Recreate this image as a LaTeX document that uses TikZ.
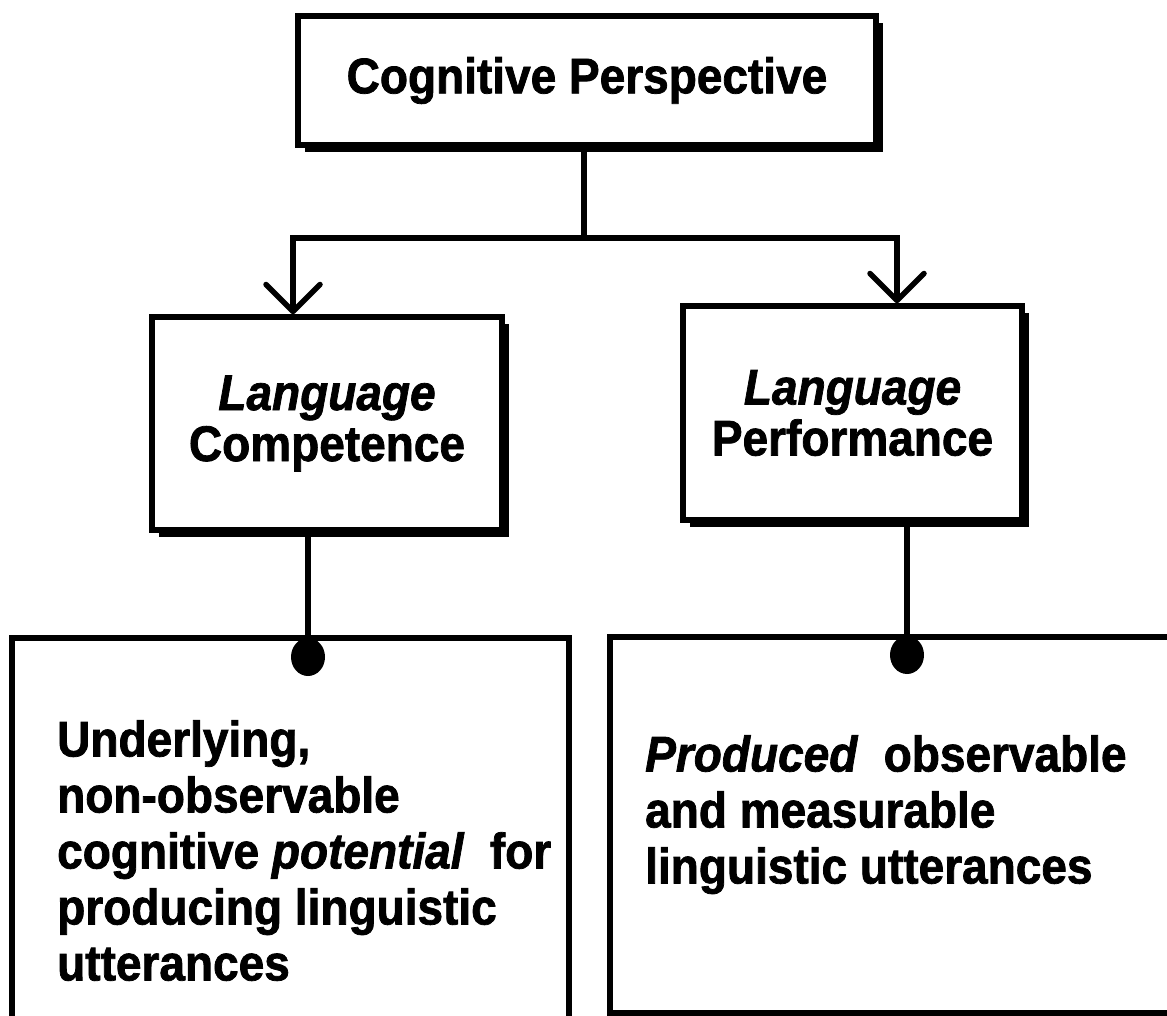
\documentclass[tikz,border=0pt]{standalone}
\usepackage{fontspec}
\setmainfont{Liberation Sans}[FakeStretch=0.92, FakeBold=1.5]
\usetikzlibrary{arrows.meta,shapes.geometric,shadows}
\begin{document}
\begin{tikzpicture}[x=1pt,y=-1pt,
  frame/.style={draw, line width=5.5pt, fill=white, inner sep=0pt},
  raised/.style={frame, drop shadow={shadow xshift=7pt, shadow yshift=-7pt, fill=black, opacity=1}},
  label/.style={font=\fontsize{50}{51}\selectfont\bfseries, align=center, inner sep=0pt},
  body/.style={font=\fontsize{50}{56}\selectfont\bfseries, align=left, inner sep=0pt, anchor=north west},
  conn/.style={line width=5.5pt},
  tip/.style={-{Straight Barb[length=27pt,width=54pt,line width=5.5pt,round]}},
  dot/.style={ellipse, fill=black, minimum width=34pt, minimum height=38pt, inner sep=0pt}
]
\useasboundingbox (0,0) rectangle (1167,1016);
\clip (0,0) rectangle (1167,1016);

% boxes
\node[raised, label, minimum width=578pt, minimum height=129pt] (top) at (587,80.5) {Cognitive Perspective};
\node[raised, label, minimum width=350pt, minimum height=213pt] (lmid) at (327,423.5) {\textit{Language}\\Competence};
\node[raised, label, minimum width=339pt, minimum height=214pt] (rmid) at (852.5,413) {\textit{Language}\\Performance};
\node[frame, minimum width=557pt, minimum height=402pt] (lbot) at (290.5,839) {};
\node[frame, minimum width=580pt, minimum height=376pt] (rbot) at (900,825) {};

% box texts
\node[body] (ltext) at (57,720) {Underlying,\\non-observable\\cognitive \textit{potential}\ \ for\\producing linguistic\\utterances};
\node[body] (rtext) at (645,735) {\textit{Produced}\ \ observable\\and measurable\\linguistic utterances};

% branching from the top box
\coordinate (fork) at (584,238);
\coordinate (ldrop) at (293,238);
\coordinate (rdrop) at (897,238);
\draw[conn] (top.south -| fork) -- (fork);
\draw[conn, tip] (fork) -- (ldrop) -- (ldrop |- lmid.north);
\draw[conn, tip] (fork) -- (rdrop) -- (rdrop |- rmid.north);

% dots hanging below the lower boxes' top edges
\node[dot] (ldot) at (308,657) {};
\node[dot] (rdot) at (907,655) {};
\draw[conn] (ldot.center |- lmid.south) -- (ldot.center);
\draw[conn] (rdot.center |- rmid.south) -- (rdot.center);
\end{tikzpicture}
\end{document}
